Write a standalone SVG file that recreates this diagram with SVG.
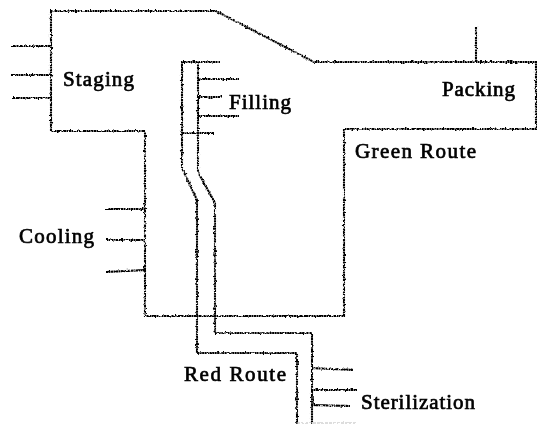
<svg xmlns="http://www.w3.org/2000/svg" width="537" height="424" viewBox="0 0 537 424">
<style>
.l{fill:none;stroke:#000;stroke-width:2.1;stroke-dasharray:2 .5}
.t{font-family:"Liberation Serif","Times New Roman",serif;font-size:21px;fill:#000;stroke:#000;stroke-width:.7;filter:url(#soft)}
</style>
<defs>
<filter id="wave" x="0" y="0" width="537" height="424" filterUnits="userSpaceOnUse" primitiveUnits="userSpaceOnUse">
<feTurbulence type="fractalNoise" baseFrequency="0.4" numOctaves="1" seed="4"/>
<feDisplacementMap in="SourceGraphic" scale="3.2" xChannelSelector="R" yChannelSelector="G"/>
<feGaussianBlur stdDeviation="0.2"/>
</filter>
<filter id="soft"><feGaussianBlur stdDeviation="0.25"/></filter>
</defs>
<rect width="537" height="424" fill="#fff"/>
<g id="connectors" filter="url(#wave)">
<path class="l" d="M50 11H216L314 62H536V129H344V316H145V131H51V11Z"/>
<path class="l" d="M11 46H50M11 75H50M13 98H50"/>
<path class="l" d="M106 209H145M106 240H145M106 272L145 270"/>
<path class="l" d="M476 27V62"/>
<path class="l" d="M220 62H182V168L197 200V353H297V424"/>
<path class="l" d="M198 62V172L215 203V333H312V424"/>
<path class="l" d="M198 79H239M198 97H222M198 116H239M182 133H214"/>
<path class="l" d="M311 368L353 370M311 390H357M311 405L350 406"/>
<path d="M297 423H356" fill="none" stroke="#bbb" stroke-width="1" stroke-dasharray="3 1"/>
</g>
<g id="staging"><text class="t" x="63" y="86" textLength="71">Staging</text></g>
<g id="filling"><text class="t" x="229" y="109" textLength="62">Filling</text></g>
<g id="packing"><text class="t" x="442" y="96" textLength="73">Packing</text></g>
<g id="green-route"><text class="t" x="355" y="158" textLength="121">Green Route</text></g>
<g id="cooling"><text class="t" x="19" y="243" textLength="75">Cooling</text></g>
<g id="red-route"><text class="t" x="184" y="381" textLength="102">Red Route</text></g>
<g id="sterilization"><text class="t" x="361" y="409" textLength="114">Sterilization</text></g>
</svg>
